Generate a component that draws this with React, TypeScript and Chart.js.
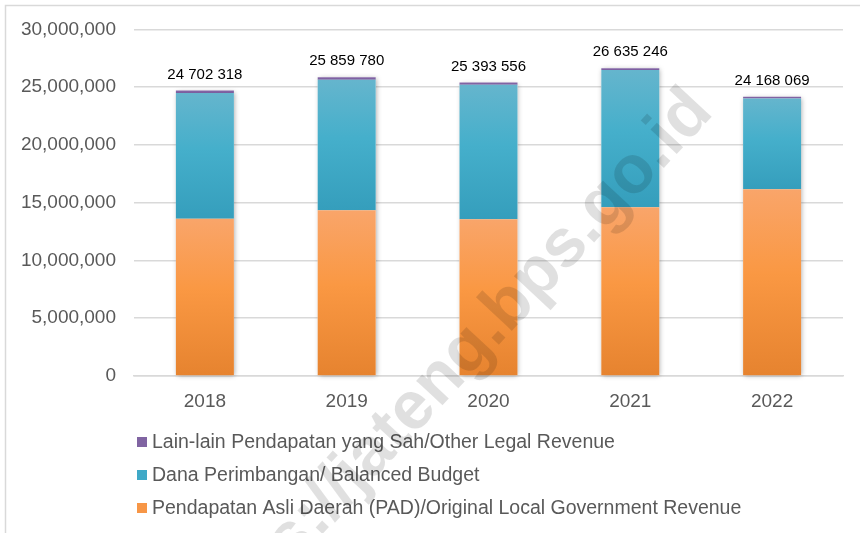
import React, { useEffect, useRef } from 'react';
import { Chart, registerables } from 'chart.js';

Chart.register(...registerables);

// ---- Data ----
const years = ['2018', '2019', '2020', '2021', '2022'];
const padValues = [13620000, 14350000, 13570000, 14610000, 16170000];
const danaValues = [10880000, 11300000, 11630000, 11870000, 7850000];
const lainValues = [202318, 209780, 193556, 155246, 148069];
const totalLabels = ['24 702 318', '25 859 780', '25 393 556', '26 635 246', '24 168 069'];
const seriesNames = [
  'Pendapatan Asli Daerah (PAD)/Original Local Government Revenue',
  'Dana Perimbangan/ Balanced Budget',
  'Lain-lain Pendapatan yang Sah/Other Legal Revenue',
];
const watermarkText = 'https://jateng.bps.go.id';

const FONT = '"Liberation Sans", Arial, sans-serif';
const allSeries = [padValues, danaValues, lainValues];
const legendColors = ['#F79646', '#3FA9C7', '#8064A2'];

const gradientStops: [number, string][][] = [
  [
    [0, '#F9A56A'],
    [0.45, '#FA9843'],
    [1, '#E6832F'],
  ],
  [
    [0, '#65B5CD'],
    [0.45, '#45AFCB'],
    [1, '#359EBC'],
  ],
  [
    [0, '#8567A8'],
    [1, '#7A5C9C'],
  ],
];

function makeFill(dsIndex: number) {
  return (ctx: any) => {
    const chart = ctx.chart;
    const stops = gradientStops[dsIndex];
    if (!chart.chartArea || ctx.type !== 'data' || ctx.dataIndex === undefined) return stops[1][1];
    const i = ctx.dataIndex;
    let base = 0;
    for (let k = 0; k < dsIndex; k++) base += allSeries[k][i];
    const top = base + allSeries[dsIndex][i];
    const y0 = chart.scales.y.getPixelForValue(top);
    const y1 = chart.scales.y.getPixelForValue(base);
    if (!isFinite(y0) || !isFinite(y1) || y0 === y1) return stops[1][1];
    const g = chart.ctx.createLinearGradient(0, y0, 0, y1);
    stops.forEach(([o, c]) => g.addColorStop(o, c));
    return g;
  };
}

const shadowPlugin = {
  id: 'barShadow',
  beforeDatasetsDraw(chart: any) {
    const ctx = chart.ctx;
    const first = chart.getDatasetMeta(0).data;
    const last = chart.getDatasetMeta(chart.data.datasets.length - 1).data;
    ctx.save();
    ctx.shadowColor = 'rgba(0,0,0,0.35)';
    ctx.shadowBlur = 5;
    ctx.shadowOffsetX = 1;
    ctx.shadowOffsetY = 1;
    ctx.fillStyle = '#ffffff';
    first.forEach((el: any, i: number) => {
      const topEl = last[i];
      const w = el.width;
      ctx.fillRect(el.x - w / 2, topEl.y, w, el.base - topEl.y);
    });
    ctx.restore();
  },
};

const totalsPlugin = {
  id: 'totals',
  afterDatasetsDraw(chart: any) {
    const ctx = chart.ctx;
    const last = chart.getDatasetMeta(chart.data.datasets.length - 1).data;
    ctx.save();
    ctx.font = `15px ${FONT}`;
    ctx.fillStyle = '#000000';
    ctx.textAlign = 'center';
    ctx.textBaseline = 'alphabetic';
    last.forEach((el: any, i: number) => {
      ctx.fillText(totalLabels[i], el.x, el.y - 12);
    });
    ctx.restore();
  },
};

const legendPlugin = {
  id: 'stackLegend',
  afterDraw(chart: any) {
    const ctx = chart.ctx;
    const ds = chart.data.datasets;
    const startY = chart.chartArea.bottom + 66;
    ctx.save();
    ctx.font = `19.5px ${FONT}`;
    ctx.textBaseline = 'middle';
    ctx.textAlign = 'left';
    for (let row = 0; row < ds.length; row++) {
      const d = ds.length - 1 - row;
      const y = startY + row * 33;
      ctx.fillStyle = legendColors[d];
      ctx.fillRect(137, y - 5, 10, 10);
      ctx.fillStyle = '#595959';
      ctx.fillText(ds[d].label, 152, y + 1);
    }
    ctx.restore();
  },
};

const framePlugin = {
  id: 'frame',
  afterDraw(chart: any) {
    const ctx = chart.ctx;
    ctx.save();
    // watermark
    ctx.translate(446, 374);
    ctx.rotate((-47 * Math.PI) / 180);
    ctx.font = `bold 68px ${FONT}`;
    ctx.fillStyle = 'rgba(0,0,0,0.12)';
    ctx.textAlign = 'center';
    ctx.textBaseline = 'middle';
    ctx.fillText(watermarkText, 0, 0);
    ctx.restore();
    ctx.save();
    ctx.strokeStyle = '#D9D9D9';
    ctx.lineWidth = 1.5;
    ctx.beginPath();
    ctx.moveTo(5.5, chart.height + 5);
    ctx.lineTo(5.5, 5.5);
    ctx.lineTo(chart.width + 5, 5.5);
    ctx.stroke();
    ctx.restore();
  },
};

export default function App() {
  const canvasRef = useRef<HTMLCanvasElement | null>(null);

  useEffect(() => {
    document.body.style.margin = '0';
    const canvas = canvasRef.current;
    if (!canvas) return;
    const chart = new Chart(canvas, {
      type: 'bar',
      data: {
        labels: years,
        datasets: allSeries.map((vals, d) => ({
          label: seriesNames[d],
          data: vals,
          backgroundColor: makeFill(d),
          borderWidth: 0,
          barPercentage: 0.409,
          categoryPercentage: 1,
        })),
      },
      options: {
        responsive: false,
        animation: false,
        devicePixelRatio: 1,
        layout: { padding: { top: 29, right: 17, left: 0, bottom: 0 } },
        plugins: {
          legend: { display: false },
          tooltip: { enabled: false },
        },
        scales: {
          x: {
            stacked: true,
            grid: { display: false, drawTicks: false },
            border: { display: true, color: '#D9D9D9', width: 1.5 },
            ticks: {
              color: '#595959',
              font: { family: FONT, size: 19 },
              padding: 14,
            },
            afterFit: (s: any) => {
              s.height = 157;
            },
          },
          y: {
            stacked: true,
            min: 0,
            max: 30000000,
            grid: { color: '#D9D9D9', lineWidth: 1.5, drawTicks: false },
            border: { display: false },
            ticks: {
              stepSize: 5000000,
              color: '#595959',
              font: { family: FONT, size: 19 },
              padding: 18,
              callback: (v: any) => Number(v).toLocaleString('en-US'),
            },
            afterFit: (s: any) => {
              s.width = 134;
            },
          },
        },
      },
      plugins: [shadowPlugin, totalsPlugin, legendPlugin, framePlugin],
    });
    return () => chart.destroy();
  }, []);

  return (
    <div style={{ width: 860, height: 533, background: '#ffffff' }}>
      <canvas ref={canvasRef} width={860} height={533} style={{ display: 'block', width: 860, height: 533 }} />
    </div>
  );
}
